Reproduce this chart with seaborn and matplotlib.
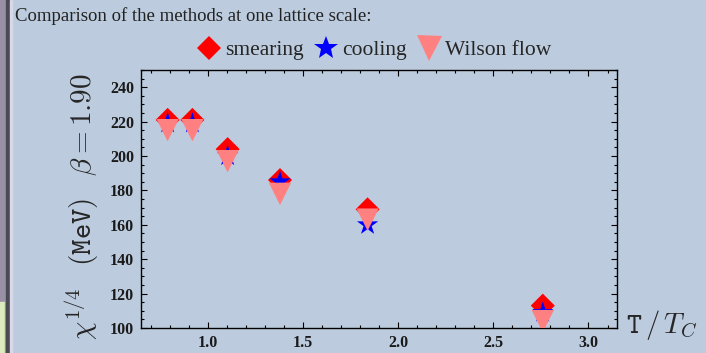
import matplotlib
matplotlib.use("Agg")
import matplotlib.pyplot as plt
import seaborn as sns
import pandas as pd
from matplotlib.lines import Line2D
from matplotlib.patches import Rectangle
from matplotlib.ticker import MultipleLocator

T = [0.79, 0.92, 1.105, 1.38, 1.84, 2.76]
smearing = [221, 221, 204, 186, 169, 113]
cooling = [219, 219, 200, 185, 160, 109]
wilson = [215, 215, 197, 178, 163, 104]
series_names = ["smearing", "cooling", "Wilson flow"]

sns.set_theme(style="white")
plt.rcParams['font.family'] = ['Liberation Serif', 'DejaVu Serif']
plt.rcParams['mathtext.fontset'] = 'cm'

bg = '#BCCCDE'
fig = plt.figure(figsize=(7.06, 3.53), dpi=100, facecolor=bg)
ax = fig.add_axes([0.1997, 0.0708, 0.6743, 0.7309])
ax.set_facecolor(bg)

df = pd.DataFrame({"T": T * 3,
                   "chi": smearing + cooling + wilson,
                   "method": [series_names[0]] * 6 + [series_names[1]] * 6 + [series_names[2]] * 6})

styles = {"smearing": ('D', '#FF0000', 150),
          "cooling": ('*', '#0000FF', 260),
          "Wilson flow": ('v', '#FF8080', 260)}
for name in series_names:
    m, c, s = styles[name]
    sns.scatterplot(data=df[df.method == name], x="T", y="chi", marker=m, color=c,
                    s=s, edgecolor='none', ax=ax, legend=False, zorder=3)

ax.set_xlim(0.65, 3.15)
ax.set_ylim(100, 250)
ax.xaxis.set_major_locator(MultipleLocator(0.5))
ax.xaxis.set_minor_locator(MultipleLocator(0.1))
ax.yaxis.set_major_locator(MultipleLocator(20))
ax.yaxis.set_minor_locator(MultipleLocator(5))
ax.tick_params(which='both', direction='in', top=True, right=True, bottom=True, left=True,
               colors='black', labelsize=11.5, width=0.8)
ax.tick_params(which='major', length=4.5)
ax.tick_params(which='minor', length=2.5)
ax.tick_params(axis='x', labeltop=False, pad=5)
ax.tick_params(axis='y', labelright=False, pad=5)
ax.set_xticks([1.0, 1.5, 2.0, 2.5, 3.0])
ax.set_xticklabels(['1.0', '1.5', '2.0', '2.5', '3.0'])
for lab in ax.get_xticklabels() + ax.get_yticklabels():
    lab.set_fontweight('bold')
    lab.set_color('#1a1a1a')
for sp in ax.spines.values():
    sp.set_color('black')
    sp.set_linewidth(1.0)
ax.set_xlabel('')
ax.set_ylabel(r'$\chi^{1/4}$   $\mathtt{(MeV)}$   $\beta\mathtt{=1.90}$', fontsize=21, labelpad=6)
ax.yaxis.set_label_coords(-0.085, 0.47)

fig.text(0.886, 0.03, r'$\mathtt{T\,/\,}T_C$', fontsize=20.5, ha='left', va='bottom')

fig.text(0.021, 0.955, 'Comparison of the methods at one lattice scale:', fontsize=13.5,
         ha='left', va='center', color='#222222')

handles = [Line2D([], [], marker=styles[n][0], color=styles[n][1], linestyle='none',
                  markersize={'smearing': 12, 'cooling': 18, 'Wilson flow': 18}[n], markeredgewidth=0)
           for n in series_names]
fig.legend(handles, series_names, loc='center', bbox_to_anchor=(0.53, 0.858), ncol=3,
           frameon=False, fontsize=15.5, handletextpad=0.2, columnspacing=0.5, handlelength=1.1)

# window border decorations at left
fig.patches.append(Rectangle((0, 0), 6 / 706, 1, transform=fig.transFigure, color='#9A90A6', zorder=0))
fig.patches.append(Rectangle((0, 0), 5 / 706, 51 / 353, transform=fig.transFigure, color='#DDEBC0', zorder=0))
fig.patches.append(Rectangle((5 / 706, 0), 1 / 706, 51 / 353, transform=fig.transFigure, color='#8DB050', zorder=0))
fig.patches.append(Rectangle((6 / 706, 0), 4 / 706, 1, transform=fig.transFigure, color='#4A4A52', zorder=0))
fig.patches.append(Rectangle((10 / 706, 0), 2 / 706, 1, transform=fig.transFigure, color='#D8D8E8', zorder=0))

fig.savefig('out.png', dpi=100, facecolor=bg)
